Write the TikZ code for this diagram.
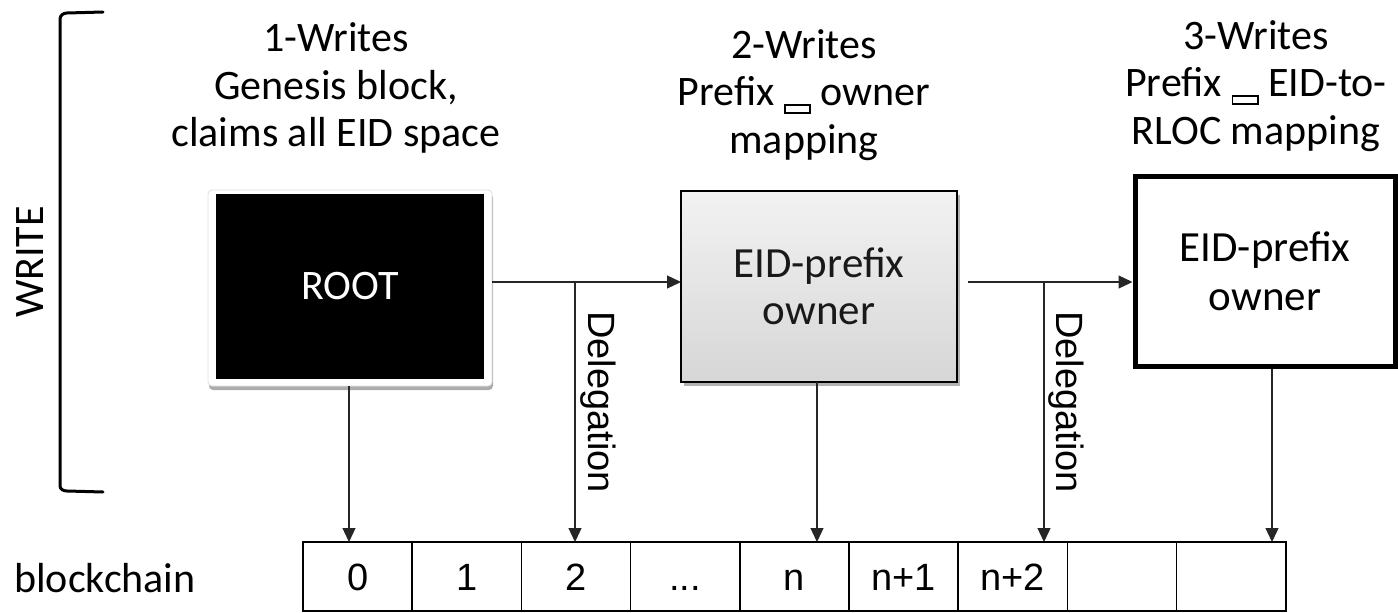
\documentclass[tikz,border=0pt]{standalone}
\usepackage{fontspec}
\setmainfont{Carlito}
\newfontfamily\arialfont{Liberation Sans}
\usetikzlibrary{arrows.meta,calc,shadows}

% small empty box set in the label line
\newcommand\tofubox{\raisebox{-6pt}{\setlength{\fboxsep}{0pt}\setlength{\fboxrule}{1.9pt}\fbox{\rule{0pt}{5.5pt}\rule{23.5pt}{0pt}}}}
\newcommand\celldots{...}

\begin{document}
\begin{tikzpicture}[x=1pt,y=-1pt,
  every node/.style={inner sep=0pt, outer sep=0pt},
  bigfont/.style={font=\fontsize{42}{47.5}\selectfont},
  bigtext/.style={bigfont, align=center},
  arr/.style={draw=black!85, line width=1.3pt, -{Triangle[length=14pt,width=13pt]}},
  cell/.style={draw, line width=1.6pt, minimum width=109.2pt, minimum height=69pt,
    text height=27.5pt, text depth=0pt, font=\arialfont\fontsize{38}{38}\selectfont},
  deleg/.style={font=\arialfont\fontsize{38}{38}\selectfont, rotate=-90},
  framebox/.style={fill=white, draw=gray!25, line width=0.8pt, rounded corners=4pt,
    minimum width=284pt, minimum height=196pt,
    drop shadow={shadow xshift=1pt, shadow yshift=-4pt, fill=gray!65, opacity=1}},
  rootbox/.style={fill=black, text=white, minimum width=268pt, minimum height=185pt,
    font=\fontsize{42}{47.5}\selectfont},
  greybox/.style={draw=black, line width=2.2pt, top color=gray!10, bottom color=gray!32,
    minimum width=276pt, minimum height=191pt, align=center, text=black!90,
    font=\fontsize{43}{47}\selectfont,
    drop shadow={shadow xshift=3pt, shadow yshift=-4pt, fill=gray!60, opacity=1}},
  boldbox/.style={draw=black, line width=5pt, fill=white, outer sep=2.5pt,
    minimum width=260pt, minimum height=190pt, align=center,
    font=\fontsize{43}{49}\selectfont},
]
\useasboundingbox (0,0) rectangle (1398,613);

% bracket grouping the writers
\draw[line width=3pt, line cap=round] (103,12) -- (67,13) to[out=180,in=90] (60,19)
  -- (60,486) to[out=-90,in=180] (67,491) -- (103,492);
\node[bigfont, rotate=90] (write) at (30,262) {WRITE};

% writers
\node[framebox] (rootframe) at (350,288) {};
\node[rootbox] (root) at (350,286.5) {ROOT};
\node[greybox] (own1) at (819,286.5) {EID-prefix\\owner};
\node[boldbox] (own2) at (1265,271.5) {EID-prefix\\owner};

% labels above the writers
\node[bigtext] (lab1) at (336,88) {1-Writes\\Genesis block,\\claims all EID space};
\node[bigtext] (lab2) at (804,95) {2-Writes\\Prefix \tofubox{} owner\\mapping};
\node[bigtext] (lab3) at (1256,86) {3-Writes\\Prefix \tofubox{} EID-to-\\RLOC mapping};

% blockchain
\node[bigfont] (bc) at (105,578) {blockchain};
\foreach \i/\t in {0/0,1/1,2/2,3/\celldots,4/n,5/n+1,6/n+2,7/,8/}
  \node[cell] (c\i) at ({357.6+109.2*\i},576.5) {\t};

% delegation arrows
\coordinate (hline) at (0,282);
\draw[arr] (rootframe.east |- hline) -- (own1.west |- hline);
\draw[arr] ([xshift=11pt]own1.east |- hline) -- (own2.west |- hline);
\coordinate (d1) at (575,282);
\coordinate (d2) at (1044,282);
\draw[arr] (d1) -- (d1 |- c2.north);
\draw[arr] (d2) -- (d2 |- c6.north);
\node[deleg] (del1) at (598,402) {Delegation};
\node[deleg] (del2) at (1066,402) {Delegation};

% writes into the chain
\draw[arr] ([xshift=-1pt]rootframe.south) -- ([xshift=-1pt]rootframe.south |- c0.north);
\draw[arr] ([xshift=-2pt]own1.south) -- ([xshift=-2pt]own1.south |- c4.north);
\draw[arr] ([xshift=7pt]own2.south) -- ([xshift=7pt]own2.south |- c8.north);
\end{tikzpicture}
\end{document}
